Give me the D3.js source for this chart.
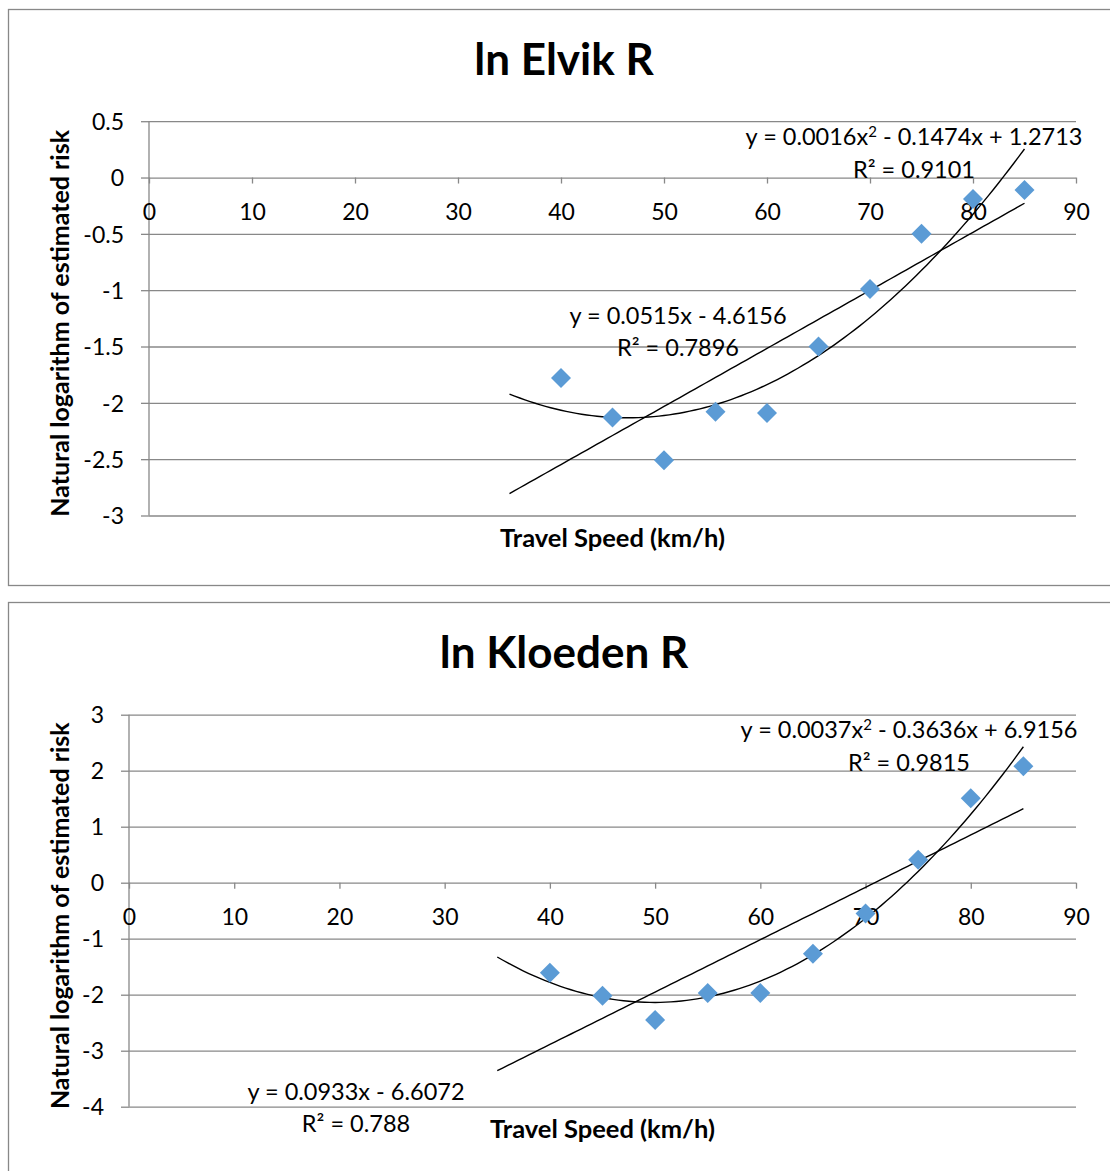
<!DOCTYPE html>
<html>
<head>
<meta charset="utf-8">
<script src="https://cdn.jsdelivr.net/npm/d3@7"></script>
<style>
  body { margin: 0; background: #fff; }
  svg { display: block; }
  text { font-family: Lato, "Open Sans", sans-serif; fill: #000; }
</style>
</head>
<body>
<script>
// values
const speeds = [40, 45, 50, 55, 60, 65, 70, 75, 80, 85];
const elvikLnR = [-1.78, -2.13, -2.51, -2.08, -2.09, -1.50, -0.99, -0.50, -0.19, -0.11];
const kloedenLnR = [-1.61, -2.02, -2.45, -1.97, -1.97, -1.27, -0.55, 0.41, 1.51, 2.08];

const xTicks = [0, 10, 20, 30, 40, 50, 60, 70, 80, 90];
const elvikYTicks = [0.5, 0, -0.5, -1, -1.5, -2, -2.5, -3];
const kloedenYTicks = [3, 2, 1, 0, -1, -2, -3, -4];

const elvikLinearLabel = ["y = 0.0515x - 4.6156", "R² = 0.7896"];
const elvikQuadLabel = ["y = 0.0016x^2 - 0.1474x + 1.2713", "R² = 0.9101"];
const kloedenLinearLabel = ["y = 0.0933x - 6.6072", "R² = 0.788"];
const kloedenQuadLabel = ["y = 0.0037x^2 - 0.3636x + 6.9156", "R² = 0.9815"];

const trendFrom = 35, trendTo = 85;

const W = 1110, H = 1171;
const grey = "#888888";

const svg = d3.select("body").append("svg")
    .attr("width", W)
    .attr("height", H);

// least squares polynomial fit, returns [c0, c1, c2...]
function polyFit(xs, ys, deg) {
    const n = deg + 1;
    const A = d3.range(n).map(() => new Array(n + 1).fill(0));
    xs.forEach((x, k) => {
        for (let i = 0; i < n; i++) {
            for (let j = 0; j < n; j++) A[i][j] += Math.pow(x, i + j);
            A[i][n] += ys[k] * Math.pow(x, i);
        }
    });
    for (let i = 0; i < n; i++) {
        for (let r = i + 1; r < n; r++) {
            const f = A[r][i] / A[i][i];
            for (let c = i; c <= n; c++) A[r][c] -= f * A[i][c];
        }
    }
    const c = new Array(n).fill(0);
    for (let i = n - 1; i >= 0; i--) {
        let s = A[i][n];
        for (let j = i + 1; j < n; j++) s -= A[i][j] * c[j];
        c[i] = s / A[i][i];
    }
    return c;
}

function addLabel(g, lines, cx, y1, y2) {
    const t1 = g.append("text")
        .attr("x", cx).attr("y", y1)
        .attr("text-anchor", "middle")
        .style("font-size", "23.5px");
    const parts = lines[0].split("^2");
    t1.append("tspan").text(parts[0]);
    if (parts.length > 1) {
        t1.append("tspan").attr("dy", -8).style("font-size", "15px").text("2");
        t1.append("tspan").attr("dy", 8).text(parts[1]);
    }
    g.append("text")
        .attr("x", cx).attr("y", y2)
        .attr("text-anchor", "middle")
        .style("font-size", "23.5px")
        .text(lines[1]);
}

function drawChart(cfg) {
    const g = svg.append("g");

    g.append("rect")
        .attr("x", 8.5).attr("y", cfg.frameY + 0.5)
        .attr("width", W + 20).attr("height", cfg.frameH)
        .attr("fill", "#fff")
        .attr("stroke", grey)
        .attr("stroke-width", 1.3);

    const x = d3.scaleLinear().domain([0, 90]).range([cfg.left, cfg.right]);
    const y = d3.scaleLinear().domain(cfg.yDomain).range([cfg.bottom, cfg.top]);

    // y axis with gridlines
    const yAxis = g.append("g")
        .attr("transform", `translate(${cfg.left},0)`)
        .call(d3.axisLeft(y).tickValues(cfg.yTicks).tickFormat(d => String(d))
            .tickSizeInner(-(cfg.right - cfg.left)).tickSizeOuter(0).tickPadding(25));
    yAxis.select(".domain").remove();
    yAxis.selectAll(".tick line").attr("stroke", grey).attr("stroke-width", 1.3);
    yAxis.selectAll(".tick").append("line")
        .attr("x1", -8).attr("x2", 0)
        .attr("stroke", grey).attr("stroke-width", 1.3);
    yAxis.selectAll(".tick text")
        .attr("dy", "0.36em")
        .style("font-size", "23px");
    yAxis.attr("font-family", null).attr("font-size", null);

    g.append("line")
        .attr("x1", cfg.left).attr("x2", cfg.left)
        .attr("y1", cfg.top).attr("y2", cfg.bottom)
        .attr("stroke", grey).attr("stroke-width", 1.3);

    // x axis crossing at zero
    const xAxis = g.append("g")
        .attr("transform", `translate(0,${y(0)})`)
        .call(d3.axisBottom(x).tickValues(xTicks).tickFormat(d => String(d))
            .tickSize(6).tickSizeOuter(0));
    xAxis.select(".domain").remove();
    xAxis.selectAll(".tick line").attr("stroke", grey).attr("stroke-width", 1.3);
    xAxis.selectAll(".tick text")
        .attr("y", 42).attr("dy", null)
        .style("font-size", "23px");
    xAxis.attr("font-family", null).attr("font-size", null);

    // trendlines from least squares
    const lin = polyFit(speeds, cfg.values, 1);
    const quad = polyFit(speeds, cfg.values, 2);
    const xs = d3.range(trendFrom, trendTo + 0.001, 0.5);
    const line = d3.line().x(d => x(d[0])).y(d => y(d[1]));

    g.append("path")
        .datum(xs.map(v => [v, lin[0] + lin[1] * v]))
        .attr("d", line)
        .attr("fill", "none").attr("stroke", "#000").attr("stroke-width", 1.4);
    g.append("path")
        .datum(xs.map(v => [v, quad[0] + quad[1] * v + quad[2] * v * v]))
        .attr("d", line)
        .attr("fill", "none").attr("stroke", "#000").attr("stroke-width", 1.4);

    // diamonds
    g.selectAll(".pt")
        .data(speeds.map((s, i) => [s, cfg.values[i]]))
        .enter()
        .append("path")
        .attr("class", "pt")
        .attr("d", d3.symbol(d3.symbolSquare, 200))
        .attr("transform", d => `translate(${x(d[0])},${y(d[1])}) rotate(45)`)
        .attr("fill", "#5b9bd5");

    addLabel(g, cfg.quadLabel, cfg.quadPos[0], cfg.quadPos[1], cfg.quadPos[1] + 33);
    addLabel(g, cfg.linLabel, cfg.linPos[0], cfg.linPos[1], cfg.linPos[1] + 32);

    g.append("text")
        .attr("x", 564).attr("y", cfg.frameY + 66)
        .attr("text-anchor", "middle")
        .style("font-size", "44px").style("font-weight", "bold")
        .text(cfg.title);

    g.append("text")
        .attr("x", (cfg.left + cfg.right) / 2).attr("y", cfg.bottom + 31)
        .attr("text-anchor", "middle")
        .style("font-size", "25.5px").style("font-weight", "bold")
        .text("Travel Speed (km/h)");

    g.append("text")
        .attr("transform", `translate(60,${(cfg.top + cfg.bottom) / 2 + 5}) rotate(-90)`)
        .attr("text-anchor", "middle")
        .attr("dy", "0.35em")
        .style("font-size", "25px").style("font-weight", "bold")
        .text("Natural logarithm of estimated risk");
}

drawChart({
    title: "ln Elvik R",
    frameY: 9, frameH: 576,
    left: 149, right: 1076, top: 121.2, bottom: 515.5,
    yDomain: [-3, 0.5], yTicks: elvikYTicks,
    values: elvikLnR,
    quadLabel: elvikQuadLabel, quadPos: [914, 145],
    linLabel: elvikLinearLabel, linPos: [678, 324]
});

drawChart({
    title: "ln Kloeden R",
    frameY: 602, frameH: 600,
    left: 129, right: 1076, top: 714.7, bottom: 1106.7,
    yDomain: [-4, 3], yTicks: kloedenYTicks,
    values: kloedenLnR,
    quadLabel: kloedenQuadLabel, quadPos: [909, 738],
    linLabel: kloedenLinearLabel, linPos: [356, 1100]
});
</script>
</body>
</html>
